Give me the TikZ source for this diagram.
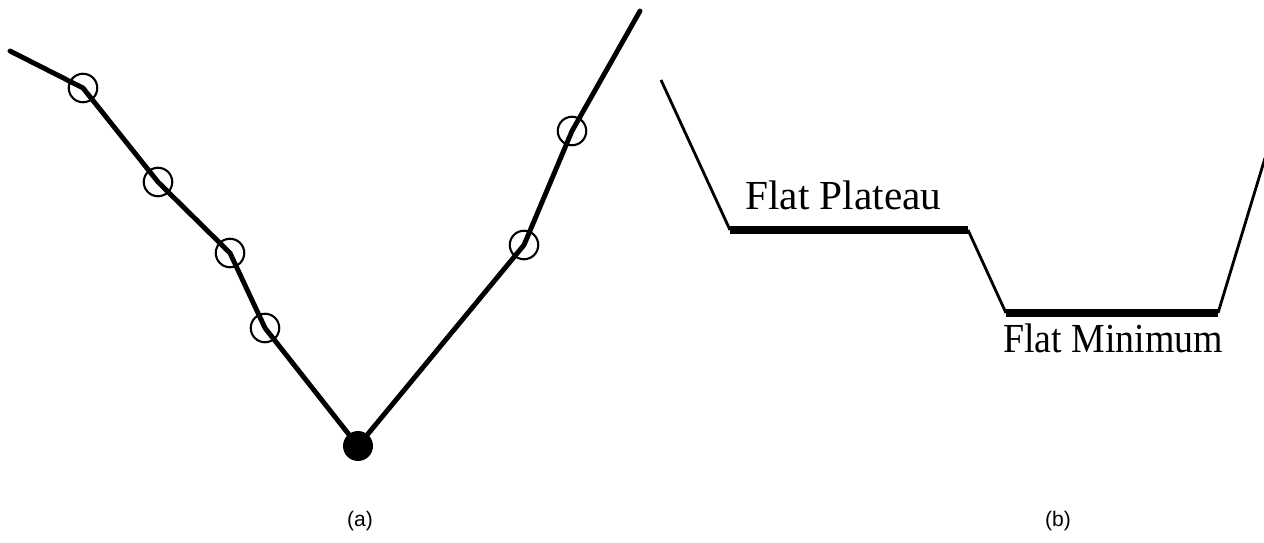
\documentclass[tikz,border=0pt]{standalone}
\usepackage{fontspec}
\setmainfont{Liberation Serif}
\newfontfamily\labfont{Liberation Sans}
\begin{document}
\begin{tikzpicture}[x=0.02cm,y=-0.02cm,
  curve/.style={line width=2.8pt,line join=round,line cap=round},
  probe/.style={circle,draw,line width=1.2pt,minimum size=0.57cm,inner sep=0pt},
  best/.style={circle,fill=black,minimum size=0.6cm,inner sep=0pt},
  slope/.style={line width=1.6pt},
  flat/.style={line width=4pt},
  lbl/.style={font=\fontsize{23.5pt}{26pt}\selectfont,inner sep=0pt},
  sublbl/.style={font=\labfont\fontsize{12pt}{14pt}\selectfont,inner sep=0pt}]
\useasboundingbox (0,0) rectangle (1264,543);
% (a)
\coordinate (s) at (10,51);
\coordinate (p1) at (83,88);
\coordinate (p2) at (158,182);
\coordinate (p3) at (230,253);
\coordinate (p4) at (265,328);
\coordinate (m) at (358,446);
\coordinate (p5) at (524,245);
\coordinate (p6) at (572,131);
\coordinate (e) at (640,11);
\draw[curve] (s) -- (p1) -- (p2) -- (p3) -- (p4) -- (m) -- (p5) -- (p6) -- (e);
\node[probe] (c1) at (p1) {};
\node[probe] (c2) at (p2) {};
\node[probe] (c3) at (p3) {};
\node[probe] (c4) at (p4) {};
\node[probe] (c5) at (p5) {};
\node[probe] (c6) at (p6) {};
\node[best] (cm) at (m) {};
\node[sublbl] (la) at (360,521) {(a)};
% (b)
\coordinate (b0) at (661,80);
\coordinate (b1) at (730,230);
\coordinate (b2) at (968,230);
\coordinate (b3) at (1006,313);
\coordinate (b4) at (1218,313);
\coordinate (b5) at (1265,158);
\draw[slope] (b0) -- (b1);
\draw[flat] (b1) -- (b2);
\draw[slope] (b2) -- (b3);
\draw[flat] (b3) -- (b4);
\draw[slope] (b4) -- (b5);
\node[lbl,anchor=base west] (t1) at (745,210) {Flat Plateau};
\node[lbl,anchor=base west,xscale=0.917] (t2) at (1003,353) {Flat Minimum};
\node[sublbl] (lb) at (1058,521) {(b)};
\end{tikzpicture}
\end{document}
